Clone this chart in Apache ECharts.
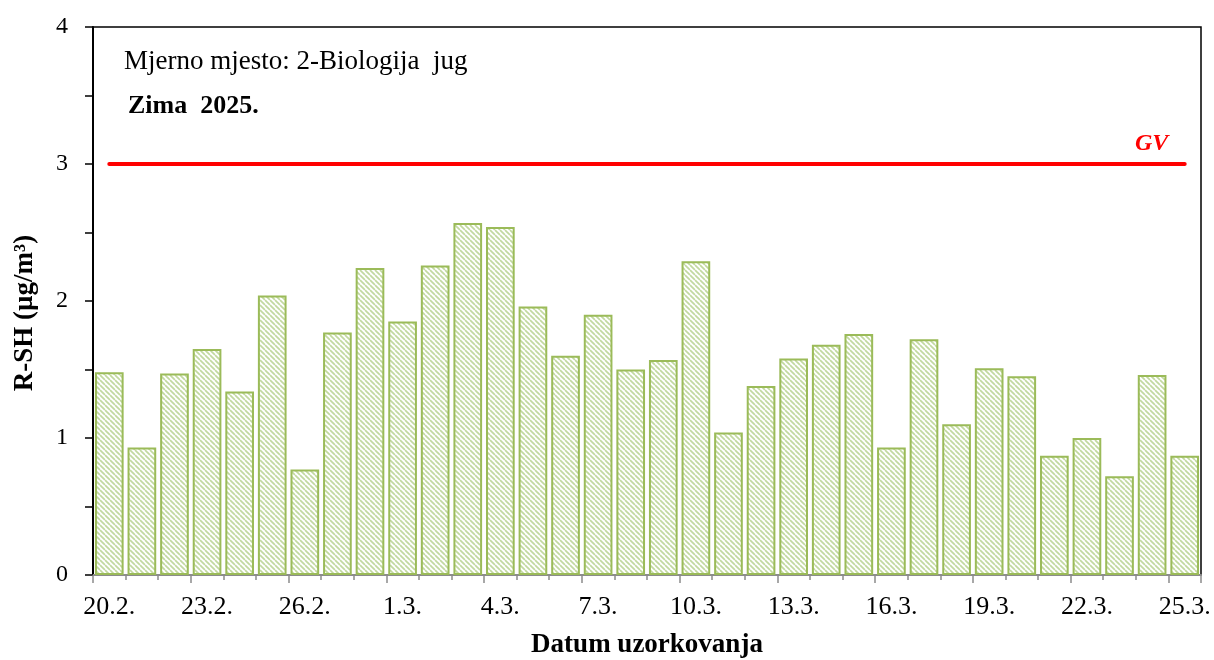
<!DOCTYPE html>
<html>
<head>
<meta charset="utf-8">
<script src="https://cdn.jsdelivr.net/npm/echarts@6/dist/echarts.min.js"></script>
<style>html,body{margin:0;padding:0;background:#fff}#c{width:1214px;height:660px}</style>
</head>
<body>
<div id="c"></div>
<script>
const categories = ['20.2.','21.2.','22.2.','23.2.','24.2.','25.2.','26.2.','27.2.','28.2.',
  '1.3.','2.3.','3.3.','4.3.','5.3.','6.3.','7.3.','8.3.','9.3.','10.3.','11.3.','12.3.','13.3.',
  '14.3.','15.3.','16.3.','17.3.','18.3.','19.3.','20.3.','21.3.','22.3.','23.3.','24.3.','25.3.'];
const rshValues = [1.48,0.93,1.47,1.65,1.34,2.04,0.77,1.77,2.24,
  1.85,2.26,2.57,2.54,1.96,1.60,1.90,1.50,1.57,2.29,1.04,1.38,1.58,
  1.68,1.76,0.93,1.72,1.10,1.51,1.45,0.87,1.00,0.72,1.46,0.87];
const gvValue = 3;
const gvValues = categories.map(() => gvValue);
const yTicks = [0,1,2,3,4];

const tile = document.createElement('canvas');
tile.width = 5; tile.height = 5;
const ctx = tile.getContext('2d');
ctx.fillStyle = '#ffffff'; ctx.fillRect(0,0,5,5);
ctx.strokeStyle = '#c2d9a0'; ctx.lineWidth = 1.7;
for (const o of [-5,0,5]) { ctx.beginPath(); ctx.moveTo(o,0); ctx.lineTo(o+5,5); ctx.stroke(); }

const font = '"Liberation Serif", "Times New Roman", serif';
const chart = echarts.init(document.getElementById('c'));
chart.setOption({
  animation: false,
  textStyle: { fontFamily: font, color: '#000' },
  title: [
    { text: 'Mjerno mjesto: 2-Biologija  jug', left: 119, top: 43,
      textStyle: { fontFamily: font, fontSize: 27, fontWeight: 'normal', color: '#000' } },
    { text: 'Zima  2025.', left: 123, top: 88,
      textStyle: { fontFamily: font, fontSize: 26, fontWeight: 'bold', color: '#000' } }
  ],
  grid: { left: 93, right: 13, top: 27, bottom: 85, outerBoundsMode: 'none', containLabel: false,
    show: true, borderColor: '#000', borderWidth: 1.5, backgroundColor: 'transparent' },
  xAxis: [{
    type: 'category', data: categories, boundaryGap: true,
    name: 'Datum uzorkovanja', nameLocation: 'middle', nameGap: 57,
    nameTextStyle: { fontFamily: font, fontSize: 27, fontWeight: 'bold', color: '#000' },
    axisLine: { lineStyle: { color: '#8c8c8c', width: 2 } },
    axisTick: { show: true, interval: 0, length: 5, lineStyle: { color: '#8c8c8c', width: 1.5 } },
    axisLabel: { interval: 2, margin: 19, fontFamily: font, fontSize: 26, color: '#000' }
  }, {
    type: 'category', data: categories, boundaryGap: true, position: 'bottom',
    axisLine: { show: false },
    axisTick: { show: true, interval: 2, length: 8, lineStyle: { color: '#8c8c8c', width: 1.5 } },
    axisLabel: { show: false }
  }],
  yAxis: {
    type: 'value', min: 0, max: 4, interval: 1,
    name: 'R-SH (µg/m³)', nameLocation: 'middle', nameGap: 54, nameRotate: 90,
    nameTextStyle: { fontFamily: font, fontSize: 27, fontWeight: 'bold', color: '#000', padding: [0, 24, 0, 0] },
    axisLine: { show: true, lineStyle: { color: '#000', width: 2 } },
    axisTick: { show: true, length: 8, lineStyle: { color: '#000', width: 1.5 } },
    minorTick: { show: true, splitNumber: 2, length: 8, lineStyle: { color: '#000', width: 1.5 } },
    splitLine: { show: false },
    axisLabel: { margin: 25, fontFamily: font, fontSize: 24, color: '#000',
      formatter: v => yTicks.includes(v) ? String(v) : '' }
  },
  series: [
    {
      type: 'bar', data: rshValues, barCategoryGap: '12%',
      itemStyle: { color: { image: tile, repeat: 'repeat' }, borderColor: '#9bbb59', borderWidth: 2 }
    },
    {
      type: 'line', symbol: 'circle', symbolSize: 0, showSymbol: true,
      data: gvValues.map((v, i) => i === gvValues.length - 1 ?
        { value: v, label: { show: true, formatter: 'GV', position: 'top', offset: [-33, -3],
          fontFamily: font, fontSize: 24, fontStyle: 'italic', fontWeight: 'bold', color: '#ff0000' } } : v),
      lineStyle: { color: '#ff0000', width: 4, cap: 'round' }, z: 5
    }
  ]
});
</script>
</body>
</html>
